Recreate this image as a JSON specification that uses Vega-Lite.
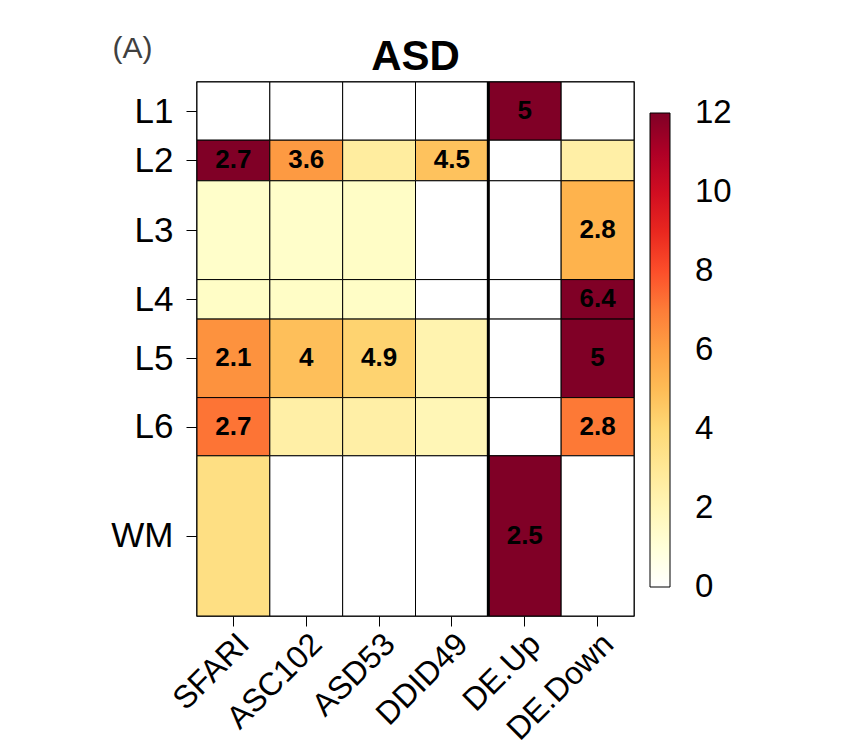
{
  "$schema": "https://vega.github.io/schema/vega-lite/v6.json",
  "width": 437,
  "height": 534,
  "autosize": {"type": "none"},
  "padding": {"left": 197, "top": 82, "right": 217, "bottom": 138},
  "background": "white",
  "config": {
    "font": "Liberation Sans",
    "view": {"stroke": "black", "strokeWidth": 1.5}
  },
  "title": {
    "text": "ASD",
    "fontSize": 42,
    "fontWeight": "bold",
    "color": "black",
    "anchor": "middle",
    "frame": "group",
    "offset": 2,
    "dy": 48
  },
  "datasets": {
    "layers": [
      {"layer": "L1", "top": 0, "bottom": 10.9, "mid": 5.45},
      {"layer": "L2", "top": 10.9, "bottom": 18.5, "mid": 14.7},
      {"layer": "L3", "top": 18.5, "bottom": 37.0, "mid": 27.75},
      {"layer": "L4", "top": 37.0, "bottom": 44.4, "mid": 40.7},
      {"layer": "L5", "top": 44.4, "bottom": 59.1, "mid": 51.75},
      {"layer": "L6", "top": 59.1, "bottom": 70.0, "mid": 64.55},
      {"layer": "WM", "top": 70.0, "bottom": 100, "mid": 85}
    ],
    "cells": [
      {"layer": "L1", "gene_set": "SFARI", "value": 0, "label": null},
      {"layer": "L1", "gene_set": "ASC102", "value": 0, "label": null},
      {"layer": "L1", "gene_set": "ASD53", "value": 0, "label": null},
      {"layer": "L1", "gene_set": "DDID49", "value": 0, "label": null},
      {"layer": "L1", "gene_set": "DE.Up", "value": 12, "label": "5"},
      {"layer": "L1", "gene_set": "DE.Down", "value": 0, "label": null},
      {"layer": "L2", "gene_set": "SFARI", "value": 12, "label": "2.7"},
      {"layer": "L2", "gene_set": "ASC102", "value": 6.2, "label": "3.6"},
      {"layer": "L2", "gene_set": "ASD53", "value": 2.7, "label": null},
      {"layer": "L2", "gene_set": "DDID49", "value": 4.8, "label": "4.5"},
      {"layer": "L2", "gene_set": "DE.Up", "value": 0, "label": null},
      {"layer": "L2", "gene_set": "DE.Down", "value": 2.5, "label": null},
      {"layer": "L3", "gene_set": "SFARI", "value": 1.4, "label": null},
      {"layer": "L3", "gene_set": "ASC102", "value": 1.4, "label": null},
      {"layer": "L3", "gene_set": "ASD53", "value": 1.5, "label": null},
      {"layer": "L3", "gene_set": "DDID49", "value": 0, "label": null},
      {"layer": "L3", "gene_set": "DE.Up", "value": 0, "label": null},
      {"layer": "L3", "gene_set": "DE.Down", "value": 5.3, "label": "2.8"},
      {"layer": "L4", "gene_set": "SFARI", "value": 1.5, "label": null},
      {"layer": "L4", "gene_set": "ASC102", "value": 1.5, "label": null},
      {"layer": "L4", "gene_set": "ASD53", "value": 1.5, "label": null},
      {"layer": "L4", "gene_set": "DDID49", "value": 0, "label": null},
      {"layer": "L4", "gene_set": "DE.Up", "value": 0, "label": null},
      {"layer": "L4", "gene_set": "DE.Down", "value": 12, "label": "6.4"},
      {"layer": "L5", "gene_set": "SFARI", "value": 6.5, "label": "2.1"},
      {"layer": "L5", "gene_set": "ASC102", "value": 4.9, "label": "4"},
      {"layer": "L5", "gene_set": "ASD53", "value": 4.2, "label": "4.9"},
      {"layer": "L5", "gene_set": "DDID49", "value": 2.2, "label": null},
      {"layer": "L5", "gene_set": "DE.Up", "value": 0, "label": null},
      {"layer": "L5", "gene_set": "DE.Down", "value": 12, "label": "5"},
      {"layer": "L6", "gene_set": "SFARI", "value": 7.2, "label": "2.7"},
      {"layer": "L6", "gene_set": "ASC102", "value": 2.5, "label": null},
      {"layer": "L6", "gene_set": "ASD53", "value": 2.5, "label": null},
      {"layer": "L6", "gene_set": "DDID49", "value": 2.0, "label": null},
      {"layer": "L6", "gene_set": "DE.Up", "value": 0, "label": null},
      {"layer": "L6", "gene_set": "DE.Down", "value": 7.1, "label": "2.8"},
      {"layer": "WM", "gene_set": "SFARI", "value": 3.6, "label": null},
      {"layer": "WM", "gene_set": "ASC102", "value": 0, "label": null},
      {"layer": "WM", "gene_set": "ASD53", "value": 0, "label": null},
      {"layer": "WM", "gene_set": "DDID49", "value": 0, "label": null},
      {"layer": "WM", "gene_set": "DE.Up", "value": 12, "label": "2.5"},
      {"layer": "WM", "gene_set": "DE.Down", "value": 0, "label": null}
    ],
    "divider": [{"boundary": "DE.Up"}]
  },
  "layer": [
    {
      "data": {"name": "cells"},
      "transform": [
        {"lookup": "layer", "from": {"data": {"name": "layers"}, "key": "layer", "fields": ["top", "bottom", "mid"]}}
      ],
      "mark": {"type": "rect", "stroke": "black", "strokeWidth": 1},
      "encoding": {
        "x": {
          "field": "gene_set",
          "type": "nominal",
          "title": null,
          "scale": {"domain": ["SFARI", "ASC102", "ASD53", "DDID49", "DE.Up", "DE.Down"], "paddingInner": 0, "paddingOuter": 0},
          "axis": {
            "labelAngle": -45,
            "labelAlign": "right",
            "labelBaseline": "top",
            "labelFontSize": 32,
            "labelColor": "black",
            "labelPadding": 2,
            "tickSize": 10,
            "tickColor": "black",
            "tickWidth": 1,
            "domain": false,
            "grid": false
          }
        },
        "y": {
          "field": "top",
          "type": "quantitative",
          "title": "(A)",
          "scale": {"domain": [0, 100], "reverse": true, "nice": false, "zero": false},
          "axis": {
            "values": [5.45, 14.7, 27.75, 40.7, 51.75, 64.55, 85],
            "labelExpr": "datum.value < 10 ? 'L1' : datum.value < 18 ? 'L2' : datum.value < 37 ? 'L3' : datum.value < 44 ? 'L4' : datum.value < 59 ? 'L5' : datum.value < 70 ? 'L6' : 'WM'",
            "grid": false,
            "domain": false,
            "tickSize": 11,
            "tickColor": "black",
            "tickWidth": 1,
            "labelFontSize": 35,
            "labelColor": "black",
            "labelPadding": 13,
            "labelFlush": false,
            "labelOverlap": false,
            "titleAngle": 0,
            "titleX": -85,
            "titleY": -25,
            "titleAlign": "left",
            "titleBaseline": "alphabetic",
            "titleFontSize": 30,
            "titleFontWeight": "normal",
            "titleColor": "#404040"
          }
        },
        "y2": {"field": "bottom"},
        "color": {
          "field": "value",
          "type": "quantitative",
          "scale": {
            "domain": [0, 1.3333, 2.6667, 4, 5.3333, 6.6667, 8, 9.3333, 10.6667, 12],
            "range": ["#ffffff", "#ffffcc", "#ffeda0", "#fed976", "#feb24c", "#fd8d3c", "#fc4e2a", "#e31a1c", "#bd0026", "#800026"],
            "interpolate": "rgb"
          },
          "legend": {
            "type": "gradient",
            "orient": "none",
            "legendX": 453,
            "legendY": 31,
            "direction": "vertical",
            "gradientLength": 474,
            "gradientThickness": 20,
            "gradientStrokeColor": "black",
            "gradientStrokeWidth": 1,
            "title": null,
            "values": [0, 2, 4, 6, 8, 10, 12],
            "labelFontSize": 33,
            "labelColor": "black",
            "labelOffset": 25,
            "labelBaseline": "middle",
            "labelOverlap": false,
            "encode": {
              "labels": {
                "update": {"baseline": {"value": "middle"}}
              }
            }
          }
        }
      }
    },
    {
      "data": {"name": "divider"},
      "mark": {"type": "rule", "strokeWidth": 3, "color": "black"},
      "encoding": {
        "x": {"field": "boundary", "type": "nominal", "title": null, "bandPosition": 0}
      }
    },
    {
      "data": {"name": "cells"},
      "transform": [
        {"lookup": "layer", "from": {"data": {"name": "layers"}, "key": "layer", "fields": ["top", "bottom", "mid"]}},
        {"filter": "datum.label != null"}
      ],
      "mark": {"type": "text", "fontSize": 26, "fontWeight": "bold", "color": "black"},
      "encoding": {
        "x": {"field": "gene_set", "type": "nominal", "title": null},
        "y": {"field": "mid", "type": "quantitative", "title": "(A)"},
        "text": {"field": "label"}
      }
    }
  ]
}
